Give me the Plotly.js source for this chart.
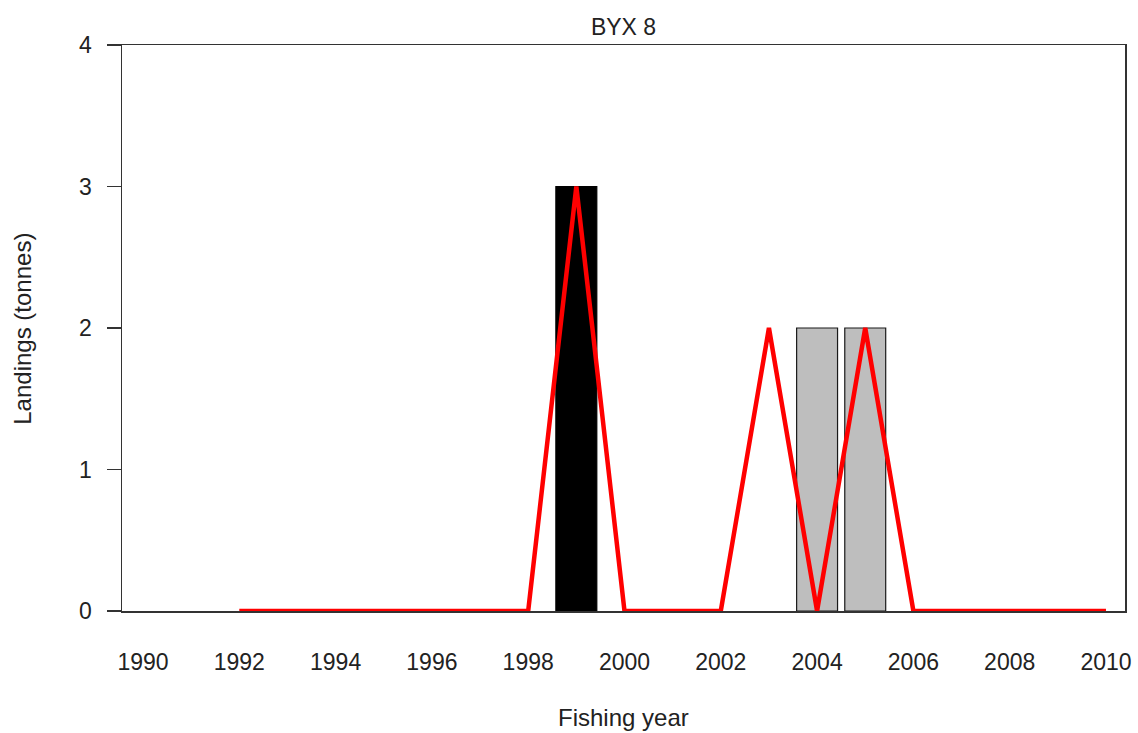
<!DOCTYPE html>
<html>
<head>
<meta charset="utf-8">
<script src="https://cdn.plot.ly/plotly-3.0.1.min.js"></script>
<style>
  html, body { margin: 0; padding: 0; background: #ffffff; }
  #chart { width: 1138px; height: 733px; }
</style>
</head>
<body>
<div id="chart"></div>
<script>
// Fishing years covered by the series
const fishingYears = [1990, 1991, 1992, 1993, 1994, 1995, 1996, 1997, 1998, 1999, 2000,
                      2001, 2002, 2003, 2004, 2005, 2006, 2007, 2008, 2009, 2010];

// Landings (tonnes) shown as black bars
const landingsBlack = [0, 0, 0, 0, 0, 0, 0, 0, 0, 3, 0, 0, 0, 0, 0, 0, 0, 0, 0, 0, 0];
// Landings (tonnes) shown as grey bars
const landingsGrey  = [0, 0, 0, 0, 0, 0, 0, 0, 0, 0, 0, 0, 0, 0, 2, 2, 0, 0, 0, 0, 0];

// Reported landings line (starts in 1992)
const lineYears = [1992, 1993, 1994, 1995, 1996, 1997, 1998, 1999, 2000, 2001,
                   2002, 2003, 2004, 2005, 2006, 2007, 2008, 2009, 2010];
const lineLandings = [0, 0, 0, 0, 0, 0, 0, 3, 0, 0, 0, 2, 0, 2, 0, 0, 0, 0, 0];

// Tick labels
const xTicks = [1990, 1992, 1994, 1996, 1998, 2000, 2002, 2004, 2006, 2008, 2010];
const yTicks = [0, 1, 2, 3, 4];

function nonZero(xs, ys) {
  const x = [], y = [];
  ys.forEach((v, i) => { if (v > 0) { x.push(xs[i]); y.push(v); } });
  return { x, y };
}

const black = nonZero(fishingYears, landingsBlack);
const grey = nonZero(fishingYears, landingsGrey);

const font = 'Liberation Sans, Arial, sans-serif';

const traces = [
  {
    type: 'bar', x: black.x, y: black.y, width: 0.85,
    marker: { color: '#000000', line: { color: '#000000', width: 1.2 } },
    hoverinfo: 'x+y', showlegend: false
  },
  {
    type: 'bar', x: grey.x, y: grey.y, width: 0.85,
    marker: { color: '#bebebe', line: { color: '#1a1a1a', width: 1.2 } },
    hoverinfo: 'x+y', showlegend: false
  },
  {
    type: 'scatter', mode: 'lines', x: lineYears, y: lineLandings,
    line: { color: '#ff0000', width: 4.5 },
    hoverinfo: 'x+y', showlegend: false
  }
];

const layout = {
  width: 1138, height: 733,
  margin: { l: 122, r: 13, t: 45, b: 121.5 },
  paper_bgcolor: '#ffffff', plot_bgcolor: '#ffffff',
  barmode: 'overlay',
  font: { family: font, color: '#222222', size: 23 },
  title: {
    text: 'BYX 8', font: { family: font, size: 23, color: '#222222' },
    x: 0.5, xref: 'paper', xanchor: 'center',
    y: 1 - 27 / 733, yref: 'container', yanchor: 'middle'
  },
  xaxis: {
    range: [1989.564, 2010.395],
    tickvals: xTicks, ticktext: xTicks.map(String),
    ticks: '', showgrid: false, zeroline: false,
    showline: true, mirror: true, linecolor: '#333333', linewidth: 1.5,
    ticklabelstandoff: 30,
    tickfont: { family: font, size: 23, color: '#222222' }
  },
  yaxis: {
    range: [0, 4],
    tickvals: yTicks, ticktext: yTicks.map(String),
    ticks: 'outside', ticklen: 14, tickwidth: 1.2, tickcolor: '#333333',
    showgrid: false, zeroline: false,
    showline: true, mirror: true, linecolor: '#333333', linewidth: 1.5,
    ticklabelstandoff: 10,
    tickfont: { family: font, size: 23, color: '#222222' }
  },
  annotations: [
    {
      text: 'Fishing year', xref: 'paper', yref: 'paper',
      x: (623 - 122) / 1003, y: (611.5 - 718) / 566.5,
      xanchor: 'center', yanchor: 'middle', showarrow: false,
      font: { family: font, size: 24, color: '#222222' }
    },
    {
      text: 'Landings (tonnes)', xref: 'paper', yref: 'paper',
      x: (23 - 122) / 1003, y: (611.5 - 329) / 566.5,
      xanchor: 'center', yanchor: 'middle', textangle: -90, showarrow: false,
      font: { family: font, size: 24, color: '#222222' }
    }
  ]
};

Plotly.newPlot('chart', traces, layout, { displayModeBar: false, staticPlot: true });
</script>
</body>
</html>
